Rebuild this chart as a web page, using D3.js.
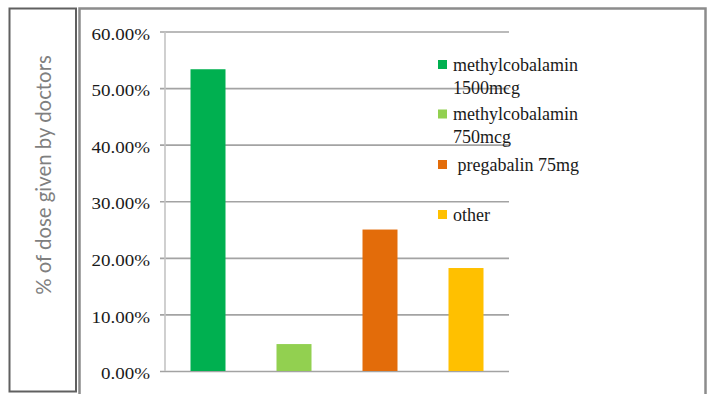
<!DOCTYPE html>
<html>
<head>
<meta charset="utf-8">
<script src="https://cdn.jsdelivr.net/npm/d3@7/dist/d3.min.js"></script>
<style>
  html, body { margin: 0; padding: 0; background: #fff; }
  svg { display: block; }
</style>
</head>
<body>
<svg id="chart" width="708" height="394"></svg>
<script>
// Share of each dose prescribed by doctors
const categories = ["methylcobalamin 1500mcg", "methylcobalamin 750mcg", "pregabalin 75mg", "other"];
const values = [0.5333, 0.0476, 0.25, 0.182];
const colors = ["#00b050", "#92d050", "#e36c0a", "#ffc000"];
const legendLines = [["methylcobalamin", "1500mcg"], ["methylcobalamin", "750mcg"], [" pregabalin 75mg"], ["other"]];
const yTicks = [0, 0.1, 0.2, 0.3, 0.4, 0.5, 0.6];
const yTitle = "% of dose given by doctors";

const serif = "Liberation Serif, Times New Roman, serif";
const svg = d3.select("#chart");

// frame: title panel on the left, chart panel on the right
svg.append("rect").attr("x", 79.5).attr("y", 8.5).attr("width", 626).attr("height", 400)
  .attr("fill", "none").attr("stroke", "#8c8c8c").attr("stroke-width", 2.5);
svg.append("rect").attr("x", 9.5).attr("y", 8.5).attr("width", 66.5).attr("height", 383)
  .attr("fill", "#fff").attr("stroke", "#606060").attr("stroke-width", 2);

const x = d3.scaleBand().domain(categories).range([165, 509])
  .paddingInner(0.593).paddingOuter(0.2965);
const y = d3.scaleLinear().domain([0, 0.6]).range([371, 31.5]);

// gridlines + tick labels
const yAxis = d3.axisLeft(y).tickValues(yTicks)
  .tickFormat(d => (d * 100).toFixed(2) + "%")
  .tickSize(-(509 - 160)).tickPadding(10);
const gAxis = svg.append("g").attr("transform", "translate(160,0)").call(yAxis);
gAxis.select(".domain").remove();
gAxis.selectAll(".tick line").attr("stroke", "#a3a3a3").attr("stroke-width", 1.6);
gAxis.selectAll(".tick text")
  .attr("font-family", serif)
  .attr("font-size", 16.5).attr("fill", "#1a1a1a").attr("dy", "0.46em")
  .each(function() {
    // labels are drawn slightly wide
    const w = this.getComputedTextLength();
    d3.select(this).attr("textLength", w * 1.15).attr("lengthAdjust", "spacingAndGlyphs");
  });

// vertical axis line
svg.append("line").attr("x1", 165).attr("x2", 165).attr("y1", y(0.6)).attr("y2", y(0))
  .attr("stroke", "#c4c4c4").attr("stroke-width", 1.6);

// bars
svg.append("g").selectAll("rect").data(categories).join("rect")
  .attr("x", d => x(d))
  .attr("width", x.bandwidth())
  .attr("y", (d, i) => y(values[i]))
  .attr("height", (d, i) => y(0) - y(values[i]))
  .attr("fill", (d, i) => colors[i]);

// legend
const legendTop = [60, 109.5, 160, 210];
const leg = svg.append("g").selectAll("g").data(categories).join("g")
  .attr("transform", (d, i) => `translate(438,${legendTop[i]})`);
leg.append("rect").attr("width", 9).attr("height", 9).attr("fill", (d, i) => colors[i]);
leg.each(function(d, i) {
  const t = d3.select(this).append("text")
    .attr("font-family", serif)
    .attr("font-size", 18).attr("fill", "#1a1a1a")
    .attr("xml:space", "preserve");
  legendLines[i].forEach((line, j) => {
    t.append("tspan").attr("x", 15).attr("y", 10.5 + j * 23).text(line);
  });
});

// y-axis title, sized to span the panel height
const title = svg.append("text")
  .attr("transform", "translate(44,175) rotate(-90)")
  .attr("text-anchor", "middle").attr("dy", "0.35em")
  .attr("font-family", "Lato, Open Sans, sans-serif")
  .attr("font-size", 20).attr("fill", "#7f7f7f")
  .text(yTitle);
const len = title.node().getComputedTextLength();
title.attr("font-size", 20 * 240 / len);
</script>
</body>
</html>
